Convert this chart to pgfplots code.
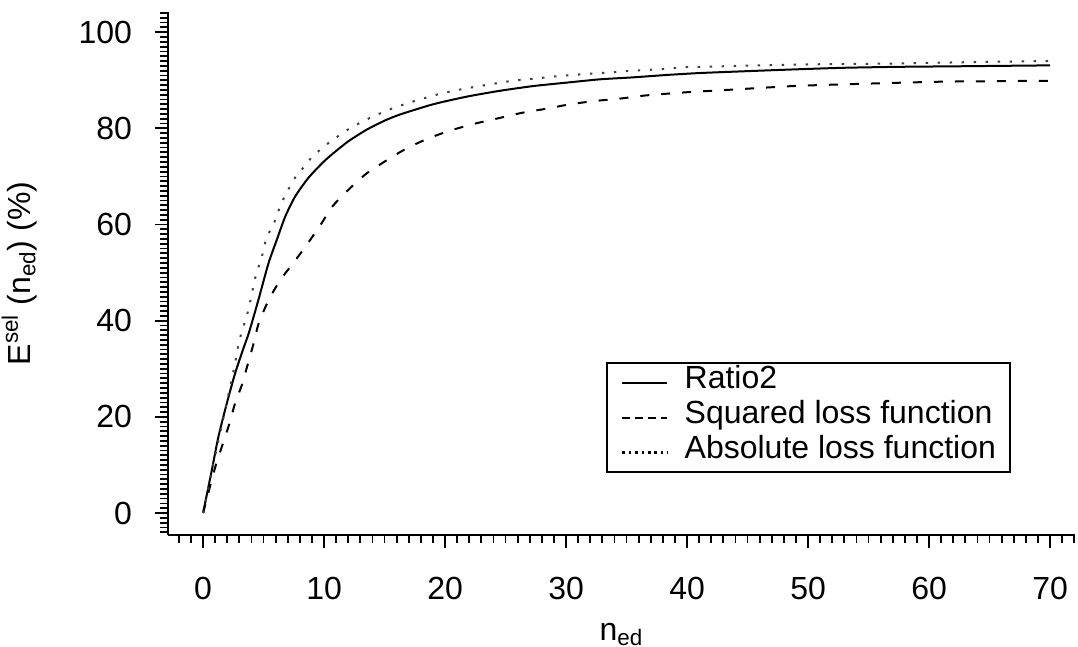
\documentclass[border=0pt]{standalone}
\usepackage{fontspec}
\setmainfont{Liberation Sans}
\usepackage{pgfplots}
\pgfplotsset{compat=1.18}
\begin{document}
\begin{tikzpicture}[font=\fontsize{16}{19}\selectfont]
\begin{axis}[name=ax, scale only axis, width=453.5pt, height=261.5pt,
  xmin=-2.9, xmax=72.06, ymin=-4.57, ymax=104.2,
  axis x line=bottom, axis y line=left,
  axis line style={-, line width=1.2pt},
  xtick={0,10,...,70}, ytick={0,20,...,100},
  minor xtick={-2,-1,...,72}, minor ytick={-4,-3,...,104},
  tick align=outside, major tick length=6.5pt, minor tick length=3.8pt,
  every tick/.style={black, line width=0.9pt},
  /pgf/number format/assume math mode=true,
  ticklabel style={font=\fontsize{16}{19}\selectfont},
  xticklabel style={anchor=base, yshift=-25.75pt},
  yticklabel style={anchor=east, xshift=-8pt},
  xlabel={n\textsubscript{ed}},
  ylabel={E\textsuperscript{sel} (n\textsubscript{ed}) (\%)},
  xlabel style={at={(axis description cs:0.5,-0.2008)}, anchor=base},
  ylabel style={at={(axis description cs:-0.1367,0.5)}, anchor=south},
  legend style={at={(0.483,0.331)}, anchor=north west, draw=black, line width=1.2pt,
    inner xsep=7pt, inner ysep=1pt, column sep=8pt, row sep=0pt,
    cells={anchor=west},
    nodes={inner sep=0pt, text height=11.5pt, text depth=6pt}},
  legend image code/.code={\draw[#1] (0pt,0pt) -- (22.5pt,0pt);},
]
\addplot[black, line width=1pt, smooth, tension=0.4, forget plot] coordinates {
(0,0) (0.72,8.9) (1.27,15.9) (1.96,22.8) (2.64,29) (3.3,34) (3.8,37.6) (4.57,44.3)
(5.4,51.9) (6.09,56.8) (6.78,61.6) (7.6,65.8) (8.7,69.7) (9.94,73) (10.8,74.9)
(12,77.3) (13.5,79.7) (15,81.6) (16.3,82.9) (19,85.0) (21.8,86.6) (24.5,87.8)
(27.3,88.8) (30,89.5) (32.8,90.2) (35.5,90.6) (38.3,91.1) (41,91.5) (45,91.9)
(49.3,92.3) (53,92.6) (57.6,92.8) (62,92.9) (66,93) (70,93.1)};
\addplot[black, line width=1pt, smooth, tension=0.4, dash pattern=on 4.5pt off 6pt, forget plot] coordinates {
(0,0) (1,9.5) (2.09,17.9) (2.64,22.8) (3.2,26.6) (3.7,31) (4.2,35.5) (4.6,39.5)
(5.4,44.2) (6.36,48.4) (7.46,52) (8.6,55.9) (9.7,59.9) (10.7,63.8) (12,67.2)
(13.5,70.6) (15.2,73.4) (16.8,75.8) (18.6,77.9) (20.5,79.6) (22.5,81) (24.4,82.1)
(26.3,83.2) (28.4,84.1) (30.3,85) (32.4,85.7) (34.5,86.2) (36.4,86.8) (38.3,87.2)
(40.5,87.6) (42.7,87.9) (48.8,88.8) (54.9,89.3) (60.9,89.7) (65,89.8) (70,89.9)};
\addplot[black!75, line width=1pt, smooth, tension=0.4, dash pattern=on 1.2pt off 4.8pt, forget plot] coordinates {
(0,0) (1,12) (2,23.5) (2.64,31.1) (2.92,35) (3.2,37.7) (3.74,42.2) (4.3,48.8)
(4.85,53.3) (5.26,57.4) (5.8,59.8) (6.09,62) (6.78,66.1) (7.33,68.5) (7.74,70.3)
(8.43,72.2) (8.98,74) (9.8,75.8) (10.5,77.2) (12,79.8) (13.8,82.2) (15.7,84.2)
(17.5,85.7) (19.6,87.2) (21.5,88.2) (23.6,89.1) (25.6,89.9) (27.6,90.4) (29.5,90.9)
(31.6,91.3) (33.5,91.6) (35.5,92) (37.8,92.3) (39.7,92.7) (41,92.8) (50,93.3)
(57.6,93.5) (64,93.8) (70,94)};
\addlegendimage{black, line width=1pt}
\addlegendentry{Ratio2}
\addlegendimage{black, line width=1pt, dash pattern=on 4pt off 2.5pt}
\addlegendentry{Squared loss function}
\addlegendimage{black, line width=1.2pt, dash pattern=on 1.3pt off 1.9pt}
\addlegendentry{Absolute loss function}
\end{axis}
\pgfresetboundingbox
\path[use as bounding box] ([xshift=-84pt,yshift=-56pt]ax.south west) rectangle ([xshift=1.5pt,yshift=6pt]ax.north east);
\end{tikzpicture}
\end{document}
